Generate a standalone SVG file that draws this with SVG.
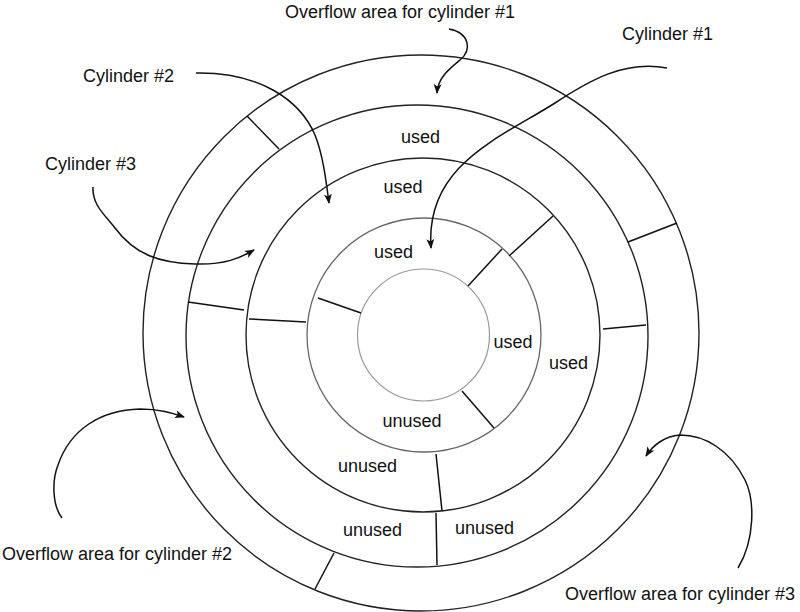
<svg xmlns="http://www.w3.org/2000/svg" width="800" height="612" viewBox="0 0 800 612">
<defs>
<marker id="ah" markerWidth="10" markerHeight="8" refX="9" refY="4" orient="auto" markerUnits="userSpaceOnUse">
<path d="M0,0 L10,4 L0,8 L2.5,4 z" fill="#111"/>
</marker>
<style>
text{font-family:"Liberation Sans",Arial,sans-serif;font-size:18px;fill:#111}
.m{text-anchor:middle}
.ring{fill:none;stroke:#222;stroke-width:1.4}
.r4{fill:none;stroke:#666;stroke-width:1.3}
.r5{fill:none;stroke:#999;stroke-width:1.2}
.div{stroke:#111;stroke-width:1.5}
.arr{fill:none;stroke:#111;stroke-width:1.5;marker-end:url(#ah)}
</style>
</defs>
<rect width="800" height="612" fill="#fff"/>
<g id="disk">
<circle class="ring" cx="421" cy="333" r="278"/>
<circle class="ring" cx="417" cy="336" r="231"/>
<circle class="ring" cx="423" cy="335" r="177"/>
<circle class="r4" cx="424" cy="335" r="117"/>
<circle class="r5" cx="423.5" cy="335" r="66"/>
</g>
<g id="dividers">
<line class="div" x1="247" y1="116" x2="279" y2="149"/>
<line class="div" x1="677" y1="223" x2="628" y2="242"/>
<line class="div" x1="334" y1="553" x2="315" y2="589"/>
<line class="div" x1="188" y1="302" x2="244" y2="310"/>
<line class="div" x1="603" y1="329" x2="646" y2="325"/>
<line class="div" x1="436" y1="513" x2="437" y2="565"/>
<line class="div" x1="249" y1="319" x2="306" y2="322"/>
<line class="div" x1="509" y1="256" x2="553" y2="216"/>
<line class="div" x1="436" y1="454" x2="442" y2="511"/>
<line class="div" x1="318" y1="298" x2="361" y2="313"/>
<line class="div" x1="468" y1="286" x2="502" y2="249"/>
<line class="div" x1="462" y1="391" x2="494" y2="428"/>
</g>
<g id="sector-labels">
<text class="m" x="420.5" y="143">used</text>
<text class="m" x="403" y="193">used</text>
<text class="m" x="393.5" y="258">used</text>
<text class="m" x="513" y="348">used</text>
<text class="m" x="568.5" y="369">used</text>
<text class="m" x="412" y="427">unused</text>
<text class="m" x="367.5" y="472">unused</text>
<text class="m" x="372.5" y="536">unused</text>
<text class="m" x="484.5" y="534">unused</text>
</g>
<g id="label-overflow1"><text x="285" y="18">Overflow area for cylinder #1</text></g>
<g id="label-cyl1"><text x="622" y="40">Cylinder #1</text></g>
<g id="label-cyl2"><text x="83" y="82">Cylinder #2</text></g>
<g id="label-cyl3"><text x="45" y="170">Cylinder #3</text></g>
<g id="label-overflow2"><text x="2" y="560">Overflow area for cylinder #2</text></g>
<g id="label-overflow3"><text x="565" y="600">Overflow area for cylinder #3</text></g>
<g id="connectors">
<path class="arr" d="M449,29 C470,33 472,50 460,60 C448,70 438,78 437,93"/>
<path class="arr" d="M667,68 C625,60 590,80 555,103 C500,138 425,165 431,248"/>
<path class="arr" d="M196,73 C260,72 300,100 315,135 C323,155 326,180 329,203"/>
<path class="arr" d="M93,187 C92,205 105,215 115,228 C135,255 160,263 195,264 C225,265 240,258 254,250"/>
<path class="arr" d="M62,518 C52,505 52,480 58,465 C70,430 100,410 140,409 C160,409 172,413 184,417"/>
<path class="arr" d="M738,568 C755,540 755,500 745,480 C730,450 705,435 680,435 C665,436 653,445 646,456"/>
</g>
</svg>
